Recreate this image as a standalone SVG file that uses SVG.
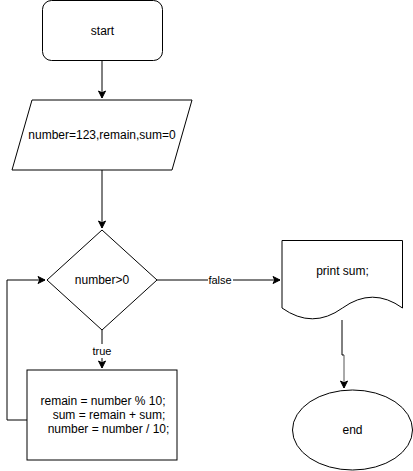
<svg xmlns="http://www.w3.org/2000/svg" width="413" height="471" viewBox="0 0 413 471">
<style>
.s{fill:#fff;stroke:#000;stroke-width:1}
.t{font-family:"Liberation Sans",Arial,sans-serif;font-size:12px;fill:#000;text-anchor:middle;dominant-baseline:central}
.c{fill:none;stroke:#000;stroke-width:1}
.lbl{font-family:"Liberation Sans",Arial,sans-serif;font-size:11px;fill:#000;text-anchor:middle;dominant-baseline:central}
</style>
<defs>
<marker id="a" markerWidth="10" markerHeight="10" refX="8" refY="5" orient="auto" markerUnits="userSpaceOnUse">
<path d="M1,1.5 L8,5 L1,8.5 L2.8,5 Z" fill="#000" stroke="#000" stroke-width="1"/>
</marker>
</defs>
<rect width="413" height="471" fill="#fff"/>
<g id="connectors">
<path class="c" d="M102,60.5 V98" marker-end="url(#a)"/>
<path class="c" d="M102,170 V228" marker-end="url(#a)"/>
<path class="c" d="M157,280 H280" marker-end="url(#a)"/>
<path class="c" d="M102,330 V368" marker-end="url(#a)"/>
<path class="c" d="M27,420 H7 V280 H45" marker-end="url(#a)"/>
<path class="c" d="M342,320 V355 H344"/>
<path fill="none" stroke="#555" stroke-width="1" d="M344,355 V388" marker-end="url(#a)"/>
<rect x="208" y="273" width="25" height="14" fill="#fff"/>
<text class="lbl" x="220" y="280">false</text>
<rect x="90" y="344" width="25" height="14" fill="#fff"/>
<text class="lbl" x="102" y="351">true</text>
</g>
<g id="start">
<rect class="s" x="42.5" y="0.5" width="120" height="60" rx="9" ry="9"/>
<text class="t" x="102.5" y="30.5">start</text>
</g>
<g id="input">
<path class="s" d="M32,100 H192 L172,170 H12 Z"/>
<text class="t" x="102" y="135">number=123,remain,sum=0</text>
</g>
<g id="decision">
<path class="s" d="M102,230 L157,280 L102,330 L47,280 Z"/>
<text class="t" x="102" y="280">number&gt;0</text>
</g>
<g id="process">
<rect class="s" x="27" y="370" width="150" height="90"/>
<text class="t" x="103" y="401">remain = number % 10;</text>
<text class="t" x="109" y="415">sum = remain + sum;</text>
<text class="t" x="108.5" y="429">number = number / 10;</text>
</g>
<g id="print">
<path class="s" d="M282,240.5 H402.5 V308 Q372.5,286.4 342.5,308 Q312.5,329.6 282,308 Z"/>
<text class="t" x="342.5" y="271">print sum;</text>
</g>
<g id="end">
<ellipse class="s" cx="352.5" cy="430" rx="60" ry="40"/>
<text class="t" x="352.5" y="430">end</text>
</g>
</svg>
